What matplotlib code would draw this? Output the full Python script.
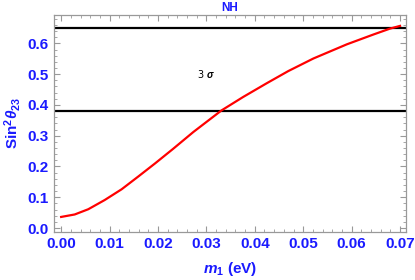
import numpy as np
import matplotlib.pyplot as plt
from matplotlib.ticker import MultipleLocator

# curve
m1 = [0.0000, 0.0028, 0.0056, 0.0090, 0.0125, 0.0159, 0.0194, 0.0231,
      0.0273, 0.0331, 0.0376, 0.0424, 0.0469, 0.0521, 0.0590, 0.0645,
      0.0679, 0.0700]
s23 = [0.036, 0.044, 0.061, 0.091, 0.126, 0.167, 0.210, 0.257,
       0.312, 0.382, 0.426, 0.470, 0.510, 0.551, 0.597, 0.629,
       0.648, 0.657]
bounds = [0.38, 0.65]

blue = '#1a1aff'
plt.rcParams['font.family'] = ['Liberation Sans', 'DejaVu Sans']
plt.rcParams['mathtext.fontset'] = 'custom'
plt.rcParams['mathtext.rm'] = 'Liberation Sans:bold'
plt.rcParams['mathtext.it'] = 'Liberation Sans:bold:italic'
plt.rcParams['mathtext.bf'] = 'Liberation Sans:bold'

fig = plt.figure(figsize=(4.15, 2.8), dpi=100)
ax = fig.add_axes([0.131, 0.1725, 0.847, 0.7735])

for b in bounds:
    ax.axhline(b, color='black', lw=1.6)
ax.plot(m1, s23, color='#ff0000', lw=1.6, solid_joinstyle='round')
ax.text(0.0299, 0.5, r'3 $\sigma$', ha='center', va='center', fontsize=7,
        color='black', family=['DejaVu Sans'])

ax.set_xlim(-0.0014, 0.0712)
ax.set_ylim(-0.012, 0.692)
ax.xaxis.set_major_locator(MultipleLocator(0.01))
ax.xaxis.set_minor_locator(MultipleLocator(0.002))
ax.yaxis.set_major_locator(MultipleLocator(0.1))
ax.yaxis.set_minor_locator(MultipleLocator(0.02))
ax.xaxis.set_major_formatter(plt.FormatStrFormatter('%.2f'))
ax.yaxis.set_major_formatter(plt.FormatStrFormatter('%.1f'))

ax.tick_params(which='both', direction='in', top=True, right=True, color='#999999')
ax.tick_params(which='major', length=4, width=0.8, labelsize=11, labelcolor=blue, pad=4)
ax.tick_params(which='minor', length=2, width=0.6)
for lab in ax.get_xticklabels() + ax.get_yticklabels():
    lab.set_fontweight('bold')
for s in ax.spines.values():
    s.set_color('#999999')
    s.set_linewidth(0.9)

ax.set_title('NH', color=blue, fontweight='bold', fontsize=8.5, pad=3)
ax.set_xlabel(r'$m_1$ (eV)', color=blue, fontweight='bold', fontsize=11, labelpad=6)
ax.set_ylabel(r'Sin$^2\theta_{23}$', color=blue, fontweight='bold', fontsize=11, labelpad=3)

fig.savefig('out.png', dpi=100)
